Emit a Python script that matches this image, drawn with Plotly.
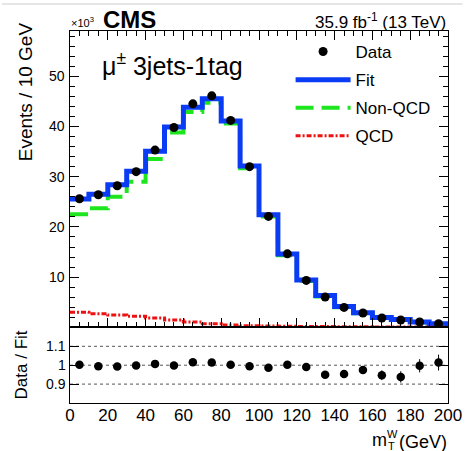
import plotly.graph_objects as go

# ---------------- data (values in units of 10^3 events) ----------------
bin_edges = [0, 10, 20, 30, 40, 50, 60, 70, 80, 90, 100, 110, 120, 130, 140, 150, 160, 170, 180, 190, 200]
bin_centers = [5, 15, 25, 35, 45, 55, 65, 75, 85, 95, 105, 115, 125, 135, 145, 155, 165, 175, 185, 195]

data_vals = [25.6, 26.4, 28.2, 31.0, 35.3, 39.8, 44.5, 46.1, 41.2, 32.0,
             22.1, 14.65, 9.35, 6.04, 3.98, 2.86, 1.87, 1.47, 1.07, 0.74]
data_err = [0.16, 0.16, 0.17, 0.18, 0.19, 0.20, 0.21, 0.21, 0.20, 0.18,
            0.15, 0.12, 0.10, 0.08, 0.07, 0.06, 0.05, 0.05, 0.04, 0.03]
fit_vals = [25.55, 26.5, 28.4, 31.06, 35.05, 39.9, 43.8, 45.5, 41.1, 32.15,
            22.4, 14.6, 9.45, 6.35, 4.17, 2.93, 1.97, 1.57, 1.07, 0.73]
nonqcd_vals = [22.5, 23.7, 26.0, 29.0, 33.5, 38.8, 42.9, 44.7, 40.6, 31.7,
               22.1, 14.35, 9.25, 6.17, 4.02, 2.81, 1.87, 1.49, 1.0, 0.68]
qcd_vals = [3.0, 2.7, 2.45, 2.2, 1.85, 1.45, 1.1, 0.75, 0.5, 0.35,
            0.3, 0.25, 0.2, 0.18, 0.15, 0.12, 0.1, 0.08, 0.07, 0.05]
ratio_vals = [1.002, 0.995, 0.993, 0.998, 1.007, 0.998, 1.016, 1.014, 1.002, 0.995,
              0.986, 1.002, 0.990, 0.949, 0.954, 0.975, 0.947, 0.938, 0.997, 1.014]
ratio_err = [0.006, 0.006, 0.006, 0.006, 0.005, 0.005, 0.005, 0.005, 0.005, 0.006,
             0.007, 0.009, 0.011, 0.014, 0.018, 0.02, 0.026, 0.03, 0.035, 0.042]

upper_yticks = [10, 20, 30, 40, 50]
upper_yticklabels = ["10", "20", "30", "40", "50"]
ratio_yticks = [0.9, 1.0, 1.1]
ratio_yticklabels = ["0.9", "1", "1.1"]
xticks = [0, 20, 40, 60, 80, 100, 120, 140, 160, 180, 200]

FONT = "Liberation Sans, Arial, Helvetica, sans-serif"
W, H = 474, 451
ML, MR, MT, MB = 70, 15, 31, 48
PW, PH = W - ML - MR, H - MT - MB
LOW = 0.2032


def px(x):
    return (x - ML) / PW


def py(y):
    return (H - MB - y) / PH


def steps(vals):
    return vals + [vals[-1]]


fig = go.Figure()

fig.add_trace(go.Scatter(x=bin_edges, y=steps(nonqcd_vals), mode="lines", line_shape="hv",
                         line=dict(color="#1ee61e", width=4, dash="18px,8px"), name="Non-QCD",
                         legendrank=3, legendgroup="c", xaxis="x", yaxis="y"))
fig.add_trace(go.Scatter(x=bin_edges, y=steps(fit_vals), mode="lines", line_shape="hv",
                         line=dict(color="#0a3cf5", width=5), name="Fit",
                         legendrank=2, legendgroup="b", xaxis="x", yaxis="y"))
fig.add_trace(go.Scatter(x=bin_edges, y=steps(qcd_vals), mode="lines", line_shape="hv",
                         line=dict(color="#ee1111", width=3, dash="5px,2px,2px,2px"), name="QCD",
                         legendrank=4, legendgroup="d", xaxis="x", yaxis="y"))
fig.add_trace(go.Scatter(x=bin_centers, y=data_vals, mode="markers",
                         marker=dict(color="black", size=9),
                         error_y=dict(type="data", array=data_err, color="black", thickness=1, width=0),
                         name="Data", legendrank=1, legendgroup="a", xaxis="x", yaxis="y"))

fig.add_trace(go.Scatter(x=bin_centers, y=ratio_vals, mode="markers",
                         marker=dict(color="black", size=8.5),
                         error_y=dict(type="data", array=ratio_err, color="black", thickness=1, width=0),
                         showlegend=False, xaxis="x2", yaxis="y2"))

axis_common = dict(showline=True, linecolor="black", linewidth=1, mirror="allticks",
                   ticks="inside", tickcolor="black", showgrid=False, zeroline=False)

fig.update_layout(
    width=W, height=H,
    margin=dict(l=ML, r=MR, t=MT, b=MB),
    paper_bgcolor="white", plot_bgcolor="white",
    font=dict(family=FONT, color="black"),
    xaxis=dict(domain=[0, 1], range=[0, 200], anchor="y", showticklabels=False,
               tickvals=xticks, ticklen=9,
               minor=dict(ticks="inside", dtick=5, ticklen=5, tickcolor="black"),
               **axis_common),
    yaxis=dict(domain=[LOW, 1], range=[0, 59], anchor="x", showticklabels=False,
               tickvals=upper_yticks, ticklen=9,
               minor=dict(ticks="inside", dtick=2, ticklen=5, tickcolor="black"),
               **axis_common),
    xaxis2=dict(domain=[0, 1], range=[0, 200], anchor="y2", matches="x",
                tickvals=xticks, ticklen=0, ticklabelstandoff=-3,
                tickfont=dict(family=FONT, size=17, color="black"),
                **axis_common),
    yaxis2=dict(domain=[0, LOW], range=[0.8, 1.2], anchor="x2", showticklabels=False,
                tickvals=ratio_yticks, ticklen=9,
                **axis_common),
    legend=dict(x=px(297), y=py(34), xanchor="left", yanchor="top",
                bgcolor="rgba(0,0,0,0)", font=dict(family=FONT, size=17, color="black"),
                tracegroupgap=3, itemwidth=55, traceorder="grouped"),
    showlegend=True,
)

# dotted grid lines in ratio panel
for yv in ratio_yticks:
    fig.add_shape(type="line", xref="x2", yref="y2", x0=0, x1=200, y0=yv, y1=yv,
                  line=dict(color="#555555", width=1, dash="dot"), layer="below")

# image border line at top
fig.add_shape(type="line", xref="paper", yref="paper", x0=px(0), x1=px(W), y0=py(4), y1=py(4),
              line=dict(color="#cccccc", width=1))

ann = []
# y tick labels (placed through the axes' own scales)
for v, t in zip(upper_yticks, upper_yticklabels):
    ann.append(dict(text=t, x=px(67), y=v, yref="y", xanchor="right", yanchor="middle",
                    font=dict(size=14, family=FONT)))
for v, t in zip(ratio_yticks, ratio_yticklabels):
    ann.append(dict(text=t, x=px(68), y=v, yref="y2", xanchor="right", yanchor="middle",
                    font=dict(size=14, family=FONT)))

ann.append(dict(text="<b>CMS</b>", x=px(102), y=py(19), xanchor="left", yanchor="middle",
                font=dict(size=24, family=FONT)))
ann.append(dict(text="×10<sup>3</sup>", x=px(69), y=py(31), xanchor="left", yanchor="bottom",
                font=dict(size=11, family=FONT)))
ann.append(dict(text="35.9 fb<sup>-1</sup> (13 TeV)", x=px(459), y=py(21), xanchor="right",
                yanchor="middle", font=dict(size=17, family=FONT)))
ann.append(dict(text="μ<sup>±</sup> 3jets-1tag", x=px(101), y=py(64), xanchor="left",
                yanchor="middle", font=dict(size=25, family=FONT)))
ann.append(dict(text="Events / 10 GeV", x=px(25), y=py(92), xanchor="center", yanchor="middle",
                textangle=-90, font=dict(size=19, family=FONT)))
ann.append(dict(text="Data / Fit", x=px(20), y=py(365), xanchor="center", yanchor="middle",
                textangle=-90, font=dict(size=17, family=FONT)))
ann.append(dict(text="m", x=px(379), y=py(440), xanchor="left", yanchor="middle",
                font=dict(size=18, family=FONT)))
ann.append(dict(text="T", x=px(395), y=py(446), xanchor="left", yanchor="middle",
                font=dict(size=11, family=FONT)))
ann.append(dict(text="W", x=px(394), y=py(434), xanchor="left", yanchor="middle",
                font=dict(size=11, family=FONT)))
ann.append(dict(text="(GeV)", x=px(460), y=py(442), xanchor="right", yanchor="middle",
                font=dict(size=18, family=FONT)))
for a in ann:
    a.setdefault("yref", "paper")
    a.update(xref="paper", showarrow=False)
fig.update_layout(annotations=ann)

fig.write_html("out.html")
